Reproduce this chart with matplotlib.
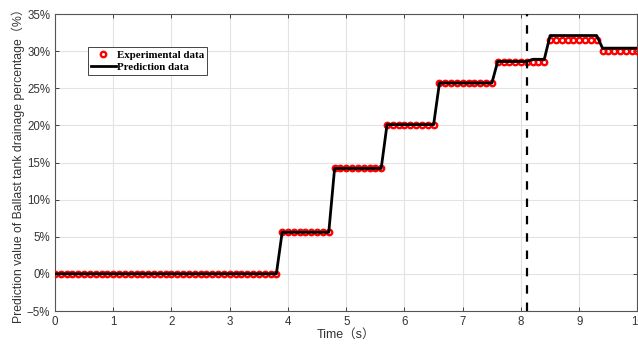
import numpy as np
import matplotlib.pyplot as plt
from matplotlib.ticker import PercentFormatter

plt.rcParams['font.family'] = ['Liberation Sans', 'Noto Sans CJK SC', 'DejaVu Sans']

# sampling grid (s)
time = np.round(np.arange(0, 101) * 0.1, 1)

# measured drainage: plateau levels (%) and number of samples on each plateau
exp_levels = [0.0, 5.6, 14.2, 20.1, 25.7, 28.6, 31.5, 30.0]
exp_counts = [39, 9, 9, 9, 10, 9, 9, 7]

# model output after the switch time; before it the model follows the measurement
switch_time = 8.1
pred_levels = [28.9, 32.1, 30.4]
pred_counts = [3, 9, 7]

experimental = np.concatenate([[v] * n for v, n in zip(exp_levels, exp_counts)])
pred_tail = np.concatenate([[v] * n for v, n in zip(pred_levels, pred_counts)])
prediction = experimental.copy()
prediction[time > switch_time] = pred_tail

grey = '#262626'
fig = plt.figure(figsize=(6.38, 3.44), dpi=100)
ax = fig.add_axes([0.0862, 0.0959, 0.9130, 0.8634])

ax.plot(time, experimental, 'o', ms=3.9, mfc='none', mec='red', mew=1.7,
        label='Experimental data', zorder=3)
ax.plot(time, prediction, '-', color='black', lw=2.0,
        label='Prediction data', zorder=4)
ax.axvline(switch_time, color='black', lw=1.6, dashes=(3.8, 4.0), zorder=5)

ax.set_xlim(0, 10)
ax.set_ylim(-5, 35)
ax.set_xticks(range(0, 11))
ax.set_yticks(range(-5, 36, 5))
ax.yaxis.set_major_formatter(PercentFormatter(decimals=0))
ax.grid(True, color='#e3e3e3', lw=0.8)
ax.set_axisbelow(True)

ax.tick_params(direction='in', top=True, right=True, length=3, width=0.6,
               colors=grey, labelsize=8.3, labelcolor='#333333')
for s in ax.spines.values():
    s.set_color('#555555')
    s.set_linewidth(0.8)

ax.set_xlabel('Time（s）', fontsize=9, color='#333333', labelpad=1)
ax.set_ylabel('Prediction value of Ballast tank drainage percentage（%）',
              fontsize=8.8, color='#333333', labelpad=1)

leg = ax.legend(loc='upper left', bbox_to_anchor=(0.056, 0.89),
                prop={'family': 'Liberation Serif', 'weight': 'bold', 'size': 7.8},
                fancybox=False, framealpha=1, edgecolor='#444444',
                handlelength=2.3, handletextpad=0.1, labelspacing=0.25,
                borderpad=0.3, borderaxespad=0)
leg.get_frame().set_linewidth(0.7)

fig.savefig('out.png', dpi=100)
